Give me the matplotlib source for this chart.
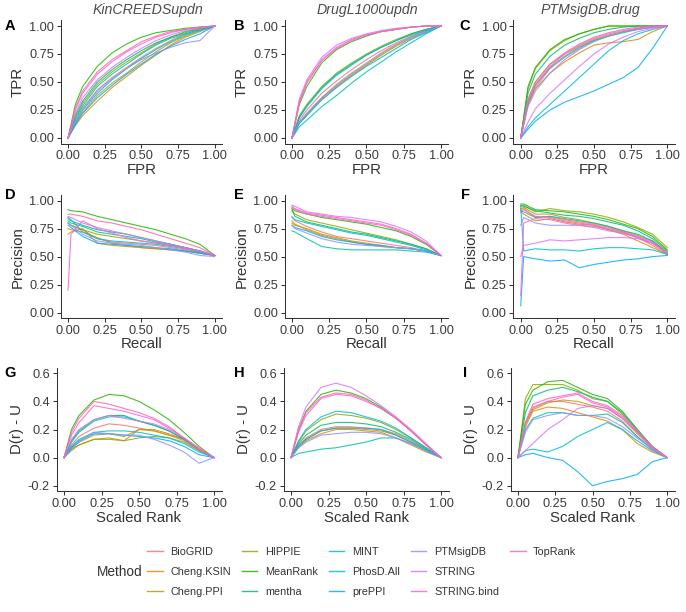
import numpy as np
import matplotlib.pyplot as plt
from matplotlib.lines import Line2D

plt.rcParams['font.family'] = ['Liberation Sans', 'DejaVu Sans']

# methods and ggplot hue colours (13 levels)
methods = ["BioGRID", "Cheng.KSIN", "Cheng.PPI", "HIPPIE", "MeanRank", "mentha", "MINT",
           "PhosD.All", "prePPI", "PTMsigDB", "STRING", "STRING.bind", "TopRank"]
colors = ["#F8766D", "#E18A00", "#BE9C00", "#8CAB00", "#24B700", "#00BE70", "#00C1AB",
          "#00BBDA", "#00ACFC", "#8B93FF", "#D575FE", "#F962DD", "#FF65AC"]

datasets = ["KinCREEDSupdn", "DrugL1000updn", "PTMsigDB.drug"]

fpr = [0, .05, .1, .2, .3, .4, .5, .6, .7, .8, .9, 1]
recall = [0, .02, .1, .2, .3, .4, .5, .6, .7, .8, .9, 1]
srank = [0, .05, .1, .2, .3, .4, .5, .6, .7, .8, .9, 1]

# ROC (TPR), rows follow `methods`
roc_kin = [
    [0, .15, .27, .43, .54, .63, .72, .80, .87, .93, .97, 1],   # BioGRID
    [0, .11, .20, .33, .45, .55, .65, .74, .83, .90, .95, 1],   # Cheng.KSIN
    [0, .13, .23, .38, .49, .58, .68, .77, .85, .91, .96, 1],   # Cheng.PPI
    [0, .18, .31, .48, .59, .68, .76, .84, .90, .94, .98, 1],   # HIPPIE
    [0, .30, .46, .64, .76, .84, .90, .94, .96, .98, .99, 1],   # MeanRank
    [0, .20, .33, .50, .61, .70, .78, .85, .90, .95, .98, 1],   # mentha
    [0, .17, .29, .46, .57, .66, .75, .83, .89, .93, .97, 1],   # MINT
    [0, .14, .25, .40, .52, .62, .71, .79, .86, .92, .96, 1],   # PhosD.All
    [0, .12, .22, .36, .47, .57, .66, .75, .82, .88, .93, 1],   # prePPI
    [0, .15, .26, .42, .53, .62, .70, .76, .81, .85, .87, 1],   # PTMsigDB
    [0, .22, .36, .52, .63, .72, .80, .87, .92, .96, .98, 1],   # STRING
    [0, .25, .40, .57, .68, .77, .84, .90, .94, .97, .99, 1],   # STRING.bind
    [0, .27, .42, .59, .70, .78, .86, .91, .95, .97, .99, 1],   # TopRank
]
roc_drug = [
    [0, .16, .25, .40, .51, .61, .70, .78, .85, .91, .96, 1],
    [0, .13, .21, .35, .46, .56, .65, .74, .82, .89, .95, 1],
    [0, .14, .22, .36, .47, .57, .66, .75, .83, .90, .95, 1],
    [0, .20, .30, .46, .58, .67, .75, .82, .88, .93, .97, 1],
    [0, .30, .46, .67, .79, .86, .91, .95, .97, .99, 1, 1],
    [0, .19, .29, .45, .57, .66, .74, .81, .87, .93, .97, 1],
    [0, .10, .16, .28, .38, .49, .59, .68, .77, .85, .93, 1],
    [0, .18, .28, .44, .56, .65, .74, .81, .87, .92, .96, 1],
    [0, .13, .20, .34, .45, .55, .64, .72, .80, .88, .94, 1],
    [0, .14, .22, .36, .48, .58, .67, .76, .84, .90, .95, 1],
    [0, .35, .52, .72, .83, .89, .93, .96, .98, .99, 1, 1],
    [0, .32, .49, .69, .80, .87, .92, .95, .97, .99, 1, 1],
    [0, .33, .50, .70, .81, .88, .92, .95, .97, .99, 1, 1],
]
roc_ptm = [
    [0, .30, .45, .62, .72, .80, .87, .91, .95, .98, 1, 1],
    [0, .30, .44, .58, .68, .76, .83, .85, .86, .88, .95, 1],
    [0, .34, .50, .66, .75, .82, .88, .92, .95, .97, .99, 1],
    [0, .44, .62, .78, .87, .93, .97, 1, 1, 1, 1, 1],
    [0, .46, .63, .79, .88, .93, .97, 1, 1, 1, 1, 1],
    [0, .40, .57, .73, .83, .89, .94, .97, .99, 1, 1, 1],
    [0, .32, .47, .63, .73, .81, .87, .91, .94, .97, .99, 1],
    [0, .10, .18, .30, .42, .54, .66, .78, .87, .93, .97, 1],
    [0, .08, .15, .25, .32, .37, .42, .48, .54, .63, .80, 1],
    [0, .28, .42, .58, .70, .79, .86, .91, .95, .97, .99, 1],
    [0, .14, .26, .40, .52, .64, .75, .84, .90, .95, .98, 1],
    [0, .33, .48, .64, .75, .83, .89, .93, .96, .98, 1, 1],
    [0, .35, .50, .66, .76, .84, .90, .94, .97, .99, 1, 1],
]

# Precision-recall (precision)
pr_kin = [
    [.80, .78, .74, .66, .63, .62, .61, .60, .58, .56, .54, .51],
    [.70, .72, .75, .62, .60, .59, .58, .57, .56, .55, .53, .51],
    [.75, .74, .72, .67, .62, .60, .58, .57, .56, .55, .53, .51],
    [.80, .78, .74, .70, .68, .66, .64, .62, .60, .58, .55, .51],
    [.92, .91, .90, .86, .83, .80, .77, .74, .70, .66, .61, .51],
    [.84, .82, .78, .74, .72, .70, .67, .64, .61, .58, .55, .51],
    [.82, .80, .77, .72, .70, .68, .66, .63, .61, .58, .55, .51],
    [.85, .83, .72, .66, .64, .63, .62, .61, .59, .57, .54, .51],
    [.78, .76, .68, .62, .61, .60, .59, .58, .57, .55, .53, .51],
    [.80, .78, .70, .64, .62, .61, .60, .58, .56, .54, .51, .50],
    [.86, .85, .80, .76, .73, .70, .67, .64, .61, .58, .55, .51],
    [.20, .70, .82, .75, .71, .67, .64, .62, .60, .57, .55, .51],
    [.88, .88, .86, .82, .80, .77, .74, .70, .66, .62, .58, .51],
]
pr_drug = [
    [.86, .82, .77, .72, .68, .66, .64, .62, .60, .58, .55, .51],
    [.82, .79, .74, .69, .66, .63, .61, .59, .58, .57, .55, .51],
    [.80, .78, .75, .70, .67, .64, .62, .60, .58, .57, .55, .51],
    [.92, .88, .83, .80, .77, .74, .71, .68, .65, .61, .57, .51],
    [.93, .91, .88, .85, .83, .81, .79, .76, .73, .68, .61, .51],
    [.91, .86, .81, .78, .75, .72, .70, .67, .64, .61, .57, .51],
    [.73, .72, .66, .59, .57, .56, .56, .56, .56, .55, .54, .51],
    [.85, .83, .80, .77, .74, .71, .69, .66, .63, .60, .56, .51],
    [.78, .76, .73, .68, .65, .63, .61, .60, .58, .57, .55, .51],
    [.78, .75, .71, .66, .63, .61, .60, .59, .58, .57, .55, .51],
    [.96, .95, .90, .88, .86, .85, .83, .81, .77, .72, .64, .51],
    [.94, .92, .88, .86, .84, .82, .80, .78, .74, .69, .62, .51],
    [.95, .93, .89, .87, .85, .83, .81, .79, .75, .70, .62, .51],
]
pr_ptm = [
    [.92, .93, .85, .86, .83, .81, .79, .76, .72, .67, .60, .52],
    [.90, .88, .82, .84, .81, .79, .78, .74, .70, .64, .58, .52],
    [.93, .94, .88, .88, .85, .83, .80, .77, .73, .69, .64, .54],
    [.95, .96, .90, .93, .91, .90, .88, .85, .81, .76, .70, .58],
    [.97, .97, .92, .91, .90, .88, .86, .83, .79, .75, .68, .56],
    [.96, .95, .91, .89, .87, .86, .84, .81, .78, .73, .66, .55],
    [.91, .90, .85, .86, .84, .82, .80, .77, .73, .70, .64, .53],
    [.95, .55, .57, .56, .56, .55, .57, .58, .58, .57, .56, .52],
    [.06, .50, .48, .46, .47, .40, .43, .45, .47, .48, .50, .51],
    [.78, .85, .80, .78, .78, .78, .77, .74, .71, .67, .62, .53],
    [.50, .60, .62, .65, .64, .65, .66, .67, .67, .66, .62, .53],
    [.15, .80, .84, .83, .80, .78, .76, .73, .71, .67, .62, .53],
    [.90, .92, .86, .85, .82, .80, .78, .75, .72, .68, .63, .53],
]

# running-sum enrichment D(r) - U
dr_kin = [
    [0, .09, .15, .21, .24, .23, .21, .19, .16, .12, .05, 0],
    [0, .05, .09, .13, .14, .12, .20, .20, .17, .13, .06, 0],
    [0, .07, .11, .16, .17, .15, .20, .19, .16, .13, .06, 0],
    [0, .06, .09, .13, .13, .12, .14, .15, .14, .11, .05, 0],
    [0, .20, .30, .41, .45, .44, .40, .34, .27, .18, .08, 0],
    [0, .12, .19, .27, .30, .30, .26, .23, .19, .13, .06, 0],
    [0, .11, .18, .26, .29, .29, .26, .23, .19, .13, .06, 0],
    [0, .08, .13, .18, .19, .19, .18, .16, .14, .10, .04, 0],
    [0, .07, .12, .17, .17, .16, .15, .14, .12, .08, .02, 0],
    [0, .06, .11, .18, .17, .16, .16, .13, .09, .04, -.04, 0],
    [0, .13, .20, .27, .30, .28, .26, .24, .20, .14, .06, 0],
    [0, .16, .25, .37, .35, .33, .30, .27, .21, .14, .06, 0],
    [0, .18, .28, .40, .38, .35, .32, .28, .22, .14, .07, 0],
]
dr_drug = [
    [0, .09, .14, .20, .22, .22, .21, .20, .17, .12, .06, 0],
    [0, .07, .12, .17, .20, .20, .19, .18, .14, .09, .04, 0],
    [0, .08, .13, .19, .21, .21, .20, .19, .16, .11, .05, 0],
    [0, .11, .19, .27, .31, .30, .28, .25, .20, .14, .07, 0],
    [0, .20, .33, .45, .48, .46, .42, .36, .28, .19, .09, 0],
    [0, .10, .16, .23, .25, .25, .24, .22, .18, .13, .06, 0],
    [0, .03, .04, .06, .07, .09, .11, .14, .14, .10, .05, 0],
    [0, .12, .20, .29, .33, .32, .29, .26, .21, .14, .07, 0],
    [0, .08, .13, .19, .21, .21, .21, .20, .16, .11, .05, 0],
    [0, .07, .11, .16, .17, .18, .18, .17, .14, .10, .05, 0],
    [0, .22, .36, .50, .53, .50, .44, .37, .29, .20, .10, 0],
    [0, .18, .30, .42, .45, .44, .40, .35, .28, .19, .09, 0],
    [0, .19, .32, .43, .46, .45, .41, .35, .28, .19, .09, 0],
]
dr_ptm = [
    [0, .25, .35, .40, .40, .38, .36, .33, .26, .15, .06, 0],
    [0, .22, .33, .36, .35, .32, .29, .26, .20, .10, .04, 0],
    [0, .24, .34, .39, .41, .40, .37, .35, .28, .17, .07, 0],
    [0, .42, .52, .52, .52, .48, .42, .40, .31, .19, .08, 0],
    [0, .38, .48, .54, .55, .50, .45, .42, .33, .20, .08, 0],
    [0, .32, .44, .48, .50, .47, .43, .40, .32, .20, .08, 0],
    [0, .20, .28, .32, .32, .30, .30, .31, .25, .15, .06, 0],
    [0, .05, .06, .04, .08, .15, .20, .25, .20, .12, .05, 0],
    [0, .02, .03, 0, -.02, -.10, -.20, -.17, -.15, -.12, -.03, 0],
    [0, .18, .27, .30, .32, .30, .30, .28, .22, .14, .06, 0],
    [0, .05, .10, .20, .27, .35, .37, .35, .28, .18, .07, 0],
    [0, .24, .36, .40, .43, .45, .39, .36, .29, .18, .07, 0],
    [0, .25, .38, .42, .44, .46, .40, .37, .30, .19, .08, 0],
]

W, H = 686, 612
fig = plt.figure(figsize=(W / 100, H / 100), dpi=100)

# axes boxes in pixels: left, right, top, bottom
boxes = [
    [(60.7, 222, 20.4, 143.6), (284.5, 448.4, 20.4, 143.6), (513.4, 674.6, 20.4, 143.6)],
    [(60.7, 222, 195.1, 318.1), (284.5, 448.4, 195.1, 318.1), (513.4, 674.6, 195.1, 318.1)],
    [(56.5, 221.5, 367.7, 491.3), (283.5, 448.5, 367.7, 491.3), (510.5, 674.5, 367.7, 491.3)],
]
rows = [
    (fpr, [roc_kin, roc_drug, roc_ptm], "FPR", "TPR"),
    (recall, [pr_kin, pr_drug, pr_ptm], "Recall", "Precision"),
    (srank, [dr_kin, dr_drug, dr_ptm], "Scaled Rank", "D(r) - U"),
]
letters = ["ABC", "DEF", "GHI"]
letter_pos = [[(10, 26), (239, 26), (465, 26)],
              [(10, 195), (239, 195), (465, 195)],
              [(10, 373), (239, 373), (465, 373)]]
title_x = [148, 367, 590]

axc = "#333333"
for r, (xs, sets, xl, yl) in enumerate(rows):
    for c in range(3):
        l, rt, t, b = boxes[r][c]
        ax = fig.add_axes([l / W, 1 - b / H, (rt - l) / W, (b - t) / H])
        for m in range(len(methods)):
            ax.plot(xs, sets[c][m], color=colors[m], lw=0.8, alpha=0.85)
        ax.set_xlim(-0.05, 1.05)
        ax.set_xticks([0, .25, .5, .75, 1])
        ax.set_xticklabels(["0.00", "0.25", "0.50", "0.75", "1.00"])
        if r < 2:
            ax.set_ylim(-0.05, 1.05)
            ax.set_yticks([0, .25, .5, .75, 1])
            ax.set_yticklabels(["0.00", "0.25", "0.50", "0.75", "1.00"])
        else:
            ax.set_ylim(-0.24, 0.64)
            ax.set_yticks([-0.2, 0, 0.2, 0.4, 0.6])
            ax.set_yticklabels(["-0.2", "0.0", "0.2", "0.4", "0.6"])
        for s in ["top", "right"]:
            ax.spines[s].set_visible(False)
        for s in ["left", "bottom"]:
            ax.spines[s].set_color(axc)
            ax.spines[s].set_linewidth(0.75)
        ax.tick_params(length=2.75, width=0.75, color=axc, labelsize=9.2,
                       labelcolor="#3a3a3a", pad=2)
        ax.set_xlabel(xl, fontsize=10.8, color="#333333", labelpad=0.5)
        ax.set_ylabel(yl, fontsize=10.8, color="#333333", labelpad=3)
        fig.text(letter_pos[r][c][0] / W, 1 - letter_pos[r][c][1] / H, letters[r][c],
                 fontsize=10.5, fontweight="bold", ha="center", va="center")
        if r == 0:
            fig.text(title_x[c] / W, 1 - 10 / H, datasets[c], fontsize=10.2,
                     style="italic", color="#4d4d4d", ha="center", va="center")

# legend at the bottom, filled column-wise
handles = [Line2D([], [], color=colors[m], lw=1.0, alpha=0.85) for m in range(len(methods))]
labels = list(methods)
handles += [Line2D([], [], lw=0, alpha=0)] * 2
labels += ["", ""]
fig.legend(handles, labels, ncol=5, loc="center left",
           bbox_to_anchor=(147 / W, 1 - 572 / H), frameon=False, fontsize=7.8,
           handlelength=1.45, handletextpad=0.7, columnspacing=1.0,
           labelspacing=0.9, borderpad=0, borderaxespad=0, labelcolor="#333333")
fig.text(142 / W, 1 - 572 / H, "Method", fontsize=9.8, color="#333333",
         ha="right", va="center")

fig.savefig("out.png", dpi=100)
